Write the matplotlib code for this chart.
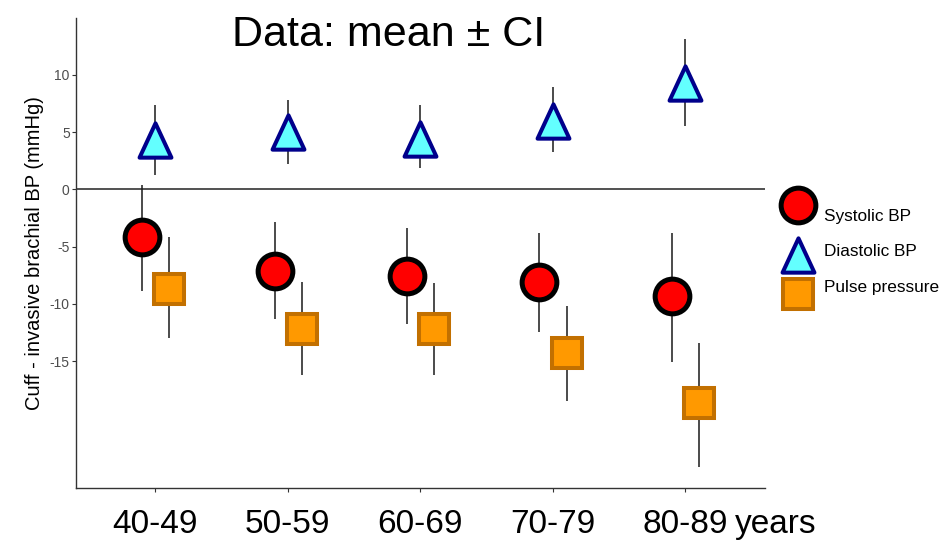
import matplotlib.pyplot as plt
import numpy as np
from matplotlib.path import Path

plt.rcParams['font.family'] = ['Liberation Sans', 'DejaVu Sans']
plt.rcParams['axes.unicode_minus'] = False

# age groups and cuff - invasive differences (mmHg), mean with CI limits
groups = ["40-49", "50-59", "60-69", "70-79", "80-89"]

sys_mean = [-4.17, -7.16, -7.60, -8.10, -9.34]
sys_lo = [-8.86, -11.34, -11.78, -12.42, -15.07]
sys_hi = [0.37, -2.84, -3.34, -3.77, -3.83]

dia_mean = [4.3, 5.0, 4.4, 6.0, 9.3]
dia_lo = [1.27, 2.20, 1.85, 3.30, 5.52]
dia_hi = [7.38, 7.82, 7.35, 8.98, 13.1]

pp_mean = [-8.69, -12.18, -12.17, -14.30, -18.62]
pp_lo = [-13.0, -16.2, -16.2, -18.47, -24.2]
pp_hi = [-4.15, -8.08, -8.2, -10.17, -13.43]

yticks = [-15, -10, -5, 0, 5, 10]

# slightly tall triangle, centred on its bounding box
tri = Path([(0, 1), (-0.93, -1), (0.93, -1), (0, 1)],
           [Path.MOVETO, Path.LINETO, Path.LINETO, Path.CLOSEPOLY])

# marker styles per series
styles = {
    "Systolic BP": dict(marker="o", ms=25, mfc="#FF0000", mec="black", mew=3.6),
    "Diastolic BP": dict(marker=tri, ms=24.7, mfc="#63FFFF", mec="#00008B", mew=2.9),
    "Pulse pressure": dict(marker="s", ms=22.3, mfc="#FF9900", mec="#C27000", mew=2.9),
}


def main():
    fig = plt.figure(figsize=(9.51, 5.42), dpi=100)
    ax = fig.add_axes([76 / 951, 1 - 488 / 542, 688.5 / 951, 470 / 542])

    x = np.arange(1, len(groups) + 1)
    series = [
        ("Systolic BP", -0.1, sys_mean, sys_lo, sys_hi),
        ("Diastolic BP", 0.0, dia_mean, dia_lo, dia_hi),
        ("Pulse pressure", 0.105, pp_mean, pp_lo, pp_hi),
    ]

    ax.axhline(0, color="#333333", lw=1.2, zorder=1)

    for name, dx, m, lo, hi in series:
        ax.vlines(x + dx, lo, hi, color="#1a1a1a", lw=1.1, zorder=2)
        ax.plot(x + dx, m, ls="none", zorder=3, **styles[name])

    ax.set_xlim(0.4, 5.6)
    ax.set_ylim(-26.07, 14.97)
    ax.set_xticks(x)
    ax.set_xticklabels(groups, fontsize=24)
    ax.set_yticks(yticks)
    ax.set_yticklabels([str(t) for t in yticks], fontsize=10, color="#4D4D4D")

    ax.tick_params(axis="x", length=3, width=0.8, color="#333333", pad=12)
    ax.tick_params(axis="y", length=3, width=0.8, color="#333333", pad=1.5)

    # "years" follows the last age group label
    ax.annotate("years", xy=(x[-1], 0), xycoords=("data", "axes fraction"),
                xytext=(36, -15), textcoords="offset points",
                ha="left", va="top", fontsize=24)

    for s in ["top", "right"]:
        ax.spines[s].set_visible(False)
    for s in ["left", "bottom"]:
        ax.spines[s].set_color("#333333")
        ax.spines[s].set_linewidth(1.0)

    fig.text(35 / 951, 1 - 253.5 / 542, "Cuff - invasive brachial BP (mmHg)",
             rotation=90, ha="center", va="center", fontsize=14.5)
    fig.text(389 / 951, 1 - 46 / 542, "Data: mean \u00b1 CI",
             ha="center", va="baseline", fontsize=31)

    # legend drawn by hand to the right of the panel
    leg = [
        ("Systolic BP", 0.602, 0.577),
        ("Diastolic BP", 0.496, 0.503),
        ("Pulse pressure", 0.413, 0.426),
    ]
    for name, ym, yt in leg:
        ax.plot([1.048], [ym], transform=ax.transAxes, clip_on=False, ls="none", **styles[name])
        ax.text(1.0864, yt, name, transform=ax.transAxes, ha="left", va="center", fontsize=12.4)

    fig.savefig("out.png", dpi=100)


main()
